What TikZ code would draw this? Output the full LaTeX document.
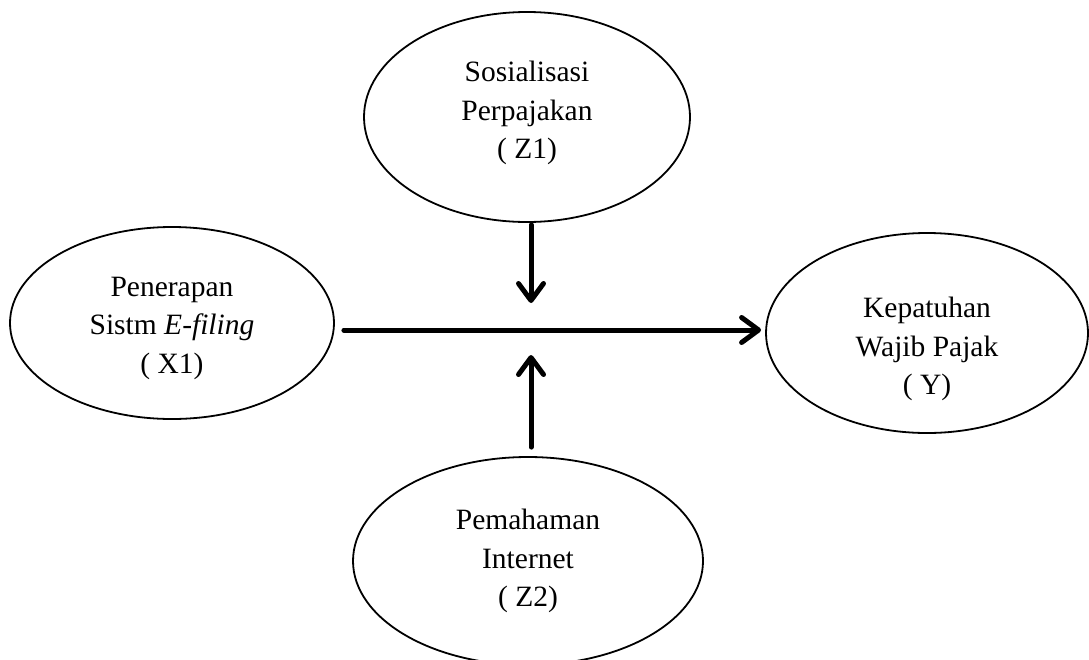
\documentclass[tikz,border=0pt]{standalone}
\usepackage{fontspec}
\setmainfont{Liberation Serif}
\usetikzlibrary{shapes.geometric,arrows.meta}
\tikzset{
  oval/.style={draw=black, line width=1.8pt, ellipse, inner sep=0pt, fill=white},
  lbl/.style={align=center, font=\fontsize{29.5}{38.5}\selectfont, inner sep=0pt},
  conn/.style={line width=5pt, line cap=round, -{Straight Barb[length=17pt, width=25pt, line cap=round, line join=round]}}
}
\begin{document}
\begin{tikzpicture}[x=1pt, y=-1pt]
\useasboundingbox (0,0) rectangle (1089,659);
% ellipses
\node[oval, minimum width=326pt, minimum height=210pt] (z1) at (527,117) {};
\node[oval, minimum width=324pt, minimum height=192pt] (x1) at (172,323) {};
\node[oval, minimum width=322pt, minimum height=200pt] (y) at (927,333) {};
\node[oval, minimum width=350pt, minimum height=208pt] (z2) at (528,561) {};
% texts
\node[lbl] (tz1) at (527,113) {Sosialisasi\\Perpajakan\\( Z1)};
\node[lbl] (tx1) at (172,328) {Penerapan\\Sistm \textit{E-filing}\\( X1)};
\node[lbl] (ty) at (927,349) {Kepatuhan\\Wajib Pajak\\( Y)};
\node[lbl] (tz2) at (528,561) {Pemahaman\\Internet\\( Z2)};
% free ends
\coordinate (m1) at (531,303);
\coordinate (m2) at (531,355);
% connectors
\draw[conn] ([xshift=9pt]x1.east |- 0,330) -- ([xshift=-4pt]y.west |- 0,330);
\draw[conn] (z1.south -| m1) ++(0,2) -- (m1);
\draw[conn] (z2.north -| m2) ++(0,-9) -- (m2);
\end{tikzpicture}
\end{document}
